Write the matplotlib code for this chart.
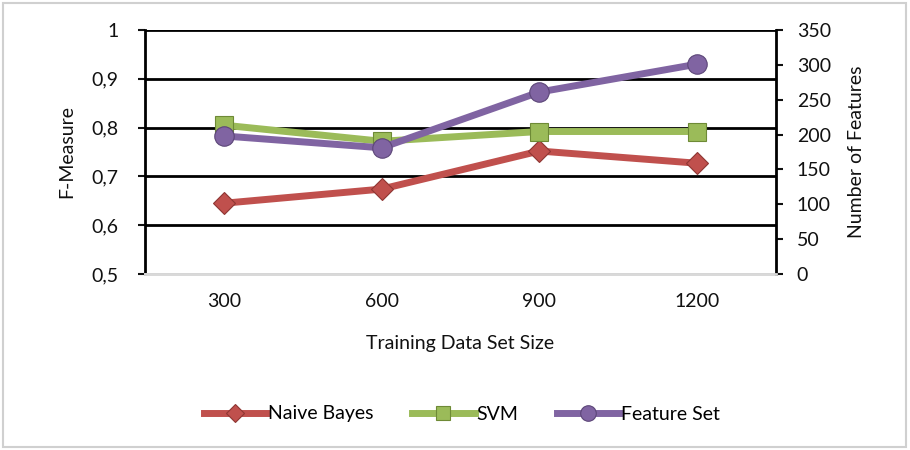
import matplotlib.pyplot as plt
from matplotlib.ticker import FuncFormatter
from matplotlib.patches import Rectangle

plt.rcParams['font.family'] = ['Lato', 'DejaVu Sans']

# data
sizes = ['300', '600', '900', '1200']
naive_bayes = [0.645, 0.674, 0.752, 0.727]
svm = [0.805, 0.772, 0.792, 0.792]
feature_set = [198, 181, 261, 301]

red = '#C0504D'
green = '#9BBB59'
purple = '#8064A2'

fig = plt.figure(figsize=(9.1, 4.5), dpi=100)
ax = fig.add_axes([145 / 910, 1 - 274 / 450, (776 - 145) / 910, (274 - 30) / 450])
ax2 = ax.twinx()

x = range(len(sizes))
ax.plot(x, naive_bayes, color=red, lw=5, marker='D', ms=11, mfc=red, mec='#8E3633',
        mew=0.8, label='Naive Bayes', zorder=3)
ax.plot(x, svm, color=green, lw=5, marker='s', ms=13, mfc=green, mec='#6E8A36',
        mew=0.8, label='SVM', zorder=3)
ax2.plot(x, feature_set, color=purple, lw=5, marker='o', ms=14, mfc=purple,
         mec='#5C4678', mew=0.8, label='Feature Set', zorder=3)

ax.set_xlim(-0.5, 3.5)
ax.set_ylim(0.5, 1.0)
ax.set_yticks([0.5, 0.6, 0.7, 0.8, 0.9, 1.0])
ax.yaxis.set_major_formatter(FuncFormatter(lambda v, p: ('%g' % v).replace('.', ',')))
ax2.set_ylim(0, 350)
ax2.set_yticks(range(0, 351, 50))

ax.set_xticks(list(x))
ax.set_xticklabels(sizes)
ax.grid(axis='y', color='black', lw=2)
ax.set_axisbelow(True)

for a in (ax, ax2):
    a.spines['top'].set_visible(False)
    a.spines['bottom'].set_color('#D9D9D9')
    a.spines['bottom'].set_linewidth(2)
    a.tick_params(labelsize=14, colors='#111111')
ax.spines['left'].set_linewidth(2)
ax2.spines['right'].set_linewidth(2)
ax.spines['right'].set_visible(False)
ax2.spines['left'].set_visible(False)
ax.tick_params(axis='y', length=5, width=1.5, direction='out', pad=14)
ax2.tick_params(axis='y', length=5, width=1.5, direction='out', pad=10)
ax.tick_params(axis='x', length=0, pad=14)

ax.set_ylabel('F-Measure', fontsize=14, labelpad=12, color='#111111')
ax2.set_ylabel('Number of Features', fontsize=14, labelpad=12, color='#111111')
ax.set_xlabel('Training Data Set Size', fontsize=14, labelpad=18, color='#111111')

h1, l1 = ax.get_legend_handles_labels()
h2, l2 = ax2.get_legend_handles_labels()
fig.legend(h1 + h2, l1 + l2, loc='center', bbox_to_anchor=(462 / 910, 1 - 414 / 450),
           ncol=3, frameon=False, fontsize=14, handlelength=3.2, handletextpad=0.1,
           columnspacing=2.0, markerscale=0.8)

fig.patches.append(Rectangle((3 / 910, 3 / 450), 903 / 910, 444 / 450, transform=fig.transFigure,
                             fill=False, edgecolor='#D0D0D0', lw=1.5))

fig.savefig('out.png', dpi=100)
